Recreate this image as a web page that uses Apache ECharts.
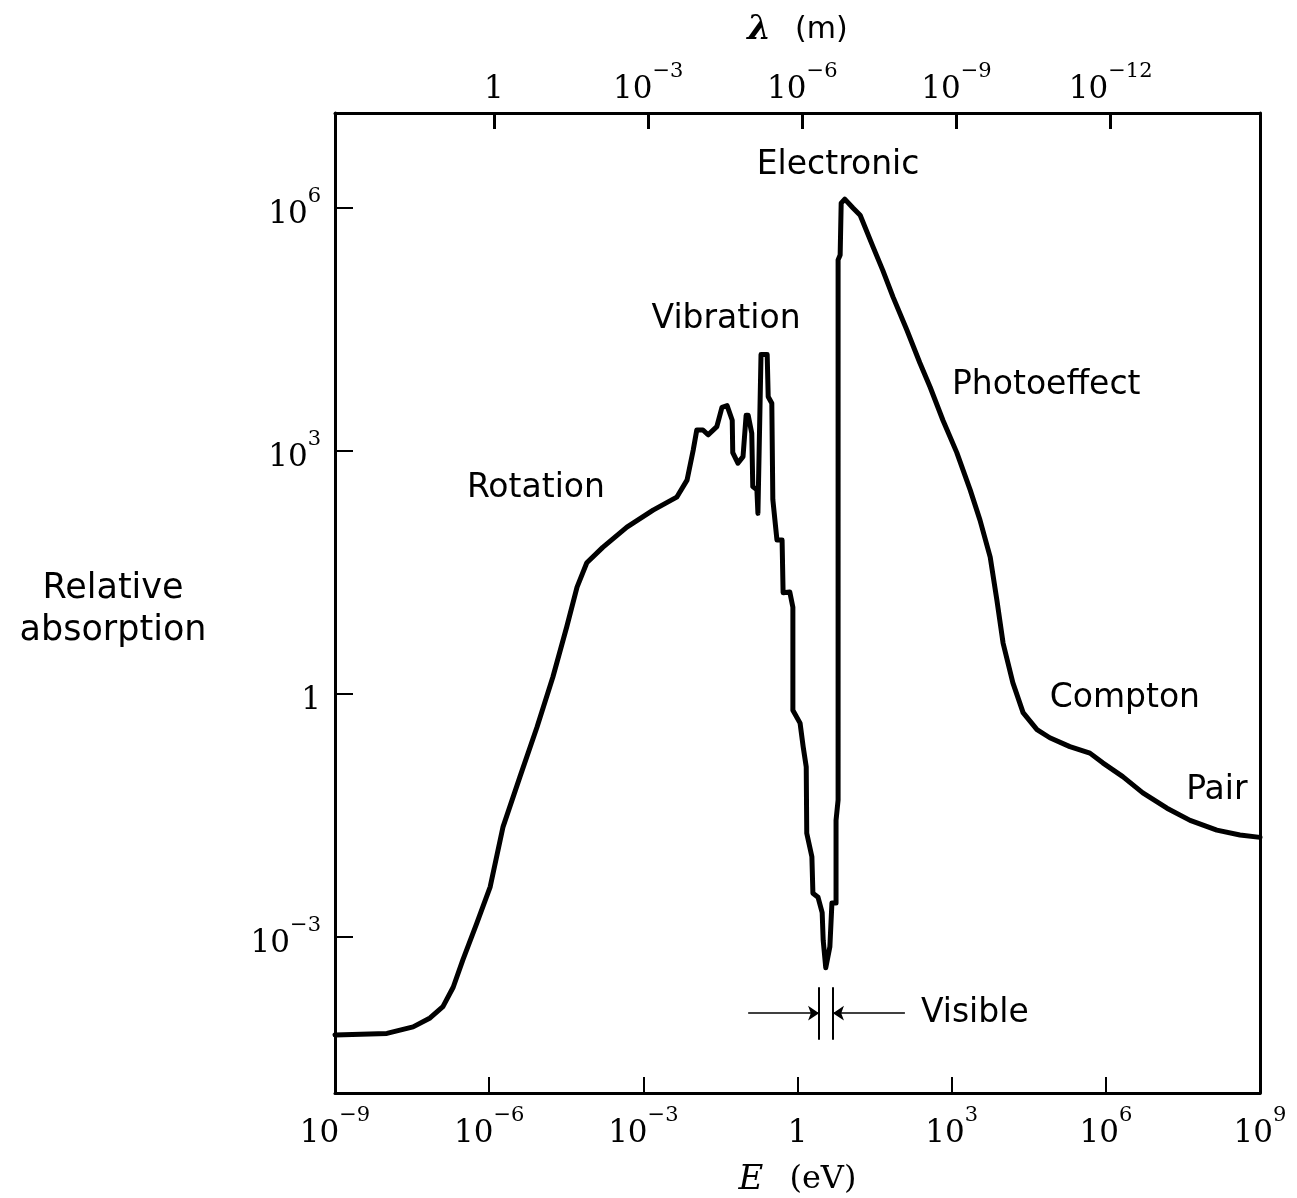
<!DOCTYPE html>
<html>
<head>
<meta charset="utf-8">
<script src="https://cdn.jsdelivr.net/npm/echarts@6/dist/echarts.min.js"></script>
<style>
  html, body { margin: 0; padding: 0; background: #fff; }
  #chart { width: 1297px; height: 1198px; }
</style>
</head>
<body>
<div id="chart"></div>
<script>
// curve: log10(E / eV) and log10(relative absorption)
const logEnergy = [
  -9.00, -7.99, -7.48, -7.15, -6.90, -6.70, -6.51, -6.24, -5.98, -5.73,
  -5.40, -5.07, -4.76, -4.49, -4.29, -4.10, -3.79, -3.32, -2.81, -2.35,
  -2.15, -2.03, -1.96, -1.84, -1.74, -1.57, -1.47, -1.37, -1.27, -1.26,
  -1.16, -1.06, -1.00, -0.96, -0.89, -0.87, -0.79, -0.77, -0.71, -0.59,
  -0.57, -0.50, -0.48, -0.40, -0.30, -0.28, -0.15, -0.09, -0.09, 0.05,
  0.11, 0.17, 0.18, 0.28, 0.30, 0.40, 0.48, 0.50, 0.55, 0.63,
  0.67, 0.75, 0.75, 0.79, 0.79, 0.83, 0.85, 0.92, 1.08, 1.22,
  1.47, 1.66, 1.86, 2.13, 2.38, 2.58, 2.83, 3.10, 3.36, 3.55,
  3.75, 3.88, 4.00, 4.19, 4.39, 4.66, 4.91, 5.30, 5.69, 5.94,
  6.33, 6.72, 7.19, 7.64, 8.16, 8.61, 9.00
];
const logAbsorption = [
  -4.21, -4.19, -4.11, -4.00, -3.86, -3.62, -3.28, -2.83, -2.38, -1.64,
  -1.02, -0.41, 0.21, 0.83, 1.32, 1.62, 1.81, 2.06, 2.27, 2.43,
  2.64, 3.01, 3.26, 3.26, 3.20, 3.30, 3.54, 3.56, 3.38, 2.98,
  2.85, 2.93, 3.44, 3.44, 3.22, 2.56, 2.52, 2.23, 4.19, 4.19,
  3.67, 3.59, 2.40, 1.90, 1.90, 1.25, 1.26, 1.07, -0.20, -0.36,
  -0.65, -0.90, -1.72, -2.01, -2.46, -2.51, -2.70, -3.04, -3.38, -3.12,
  -2.58, -2.58, -1.56, -1.31, 5.36, 5.42, 6.06, 6.11, 6.00, 5.91,
  5.52, 5.23, 4.90, 4.49, 4.09, 3.79, 3.38, 2.98, 2.52, 2.15,
  1.69, 1.16, 0.63, 0.14, -0.23, -0.44, -0.54, -0.65, -0.73, -0.85,
  -1.02, -1.22, -1.41, -1.56, -1.68, -1.74, -1.77
];

const energyTicks = [-9, -6, -3, 0, 3, 6, 9];
const absorptionTicks = [-3, 0, 3, 6];
const lambdaTicks = [0, -3, -6, -9, -12]; // log10(λ / m)

const regionNames = ['Electronic', 'Vibration', 'Photoeffect', 'Rotation', 'Compton', 'Pair', 'Visible'];
const regionLogE = [0.79, -1.39, 4.84, -5.09, 6.37, 8.16, 3.45];
const regionLogA = [6.52, 4.63, 3.81, 2.54, -0.06, -1.19, -3.94];

// visible band marker (log10 E of its two edges, and of the arrow tails)
const visibleEdges = [0.42, 0.69];
const visibleArrowTails = [-0.96, 2.09];
const visibleSpan = [-3.62, -4.27];
const visibleArrowY = -3.94;

const LOG_HC = Math.log10(1.2398e-6); // λ(m) = 1.2398e-6 / E(eV)
const Y_MIN = -4.926, Y_MAX = 7.173;

const serif = 'DejaVu Serif';
const sans = 'DejaVu Sans';

const powRich = {
  b: { fontFamily: serif, fontSize: 31, lineHeight: 44, verticalAlign: 'bottom', color: '#000' },
  s: { fontFamily: serif, fontSize: 21, lineHeight: 24, verticalAlign: 'top', color: '#000' }
};
function pow10(e) {
  if (e === 0) return '{b|1}';
  return '{b|10}{s|' + (e < 0 ? '\u2212' + (-e) : e) + '}';
}

const myChart = echarts.init(document.getElementById('chart'));

const curve = logEnergy.map((x, i) => [x, logAbsorption[i]]);
const labels = regionNames.map((n, i) => [regionLogE[i], regionLogA[i], n]);
const lambdaPos = lambdaTicks.map(k => LOG_HC - k);

const frame = { color: '#000', width: 3 };

myChart.setOption({
  animation: false,
  backgroundColor: '#fff',
  grid: { left: 335, top: 113, width: 925, height: 980, containLabel: false, outerBoundsMode: 'none' },
  xAxis: [
    {
      type: 'value', position: 'bottom', min: -9, max: 9,
      axisLine: { onZero: false, lineStyle: frame },
      axisTick: { inside: true, length: 16, lineStyle: { color: '#000', width: 2 }, customValues: [-6, -3, 0, 3, 6] },
      axisLabel: {
        customValues: energyTicks, showMinLabel: true, showMaxLabel: true, margin: 12,
        formatter: v => pow10(Math.round(v)), rich: powRich
      },
      splitLine: { show: false },
      name: '{i|E}{t|(eV)}', nameLocation: 'middle', nameGap: 70,
      nameTextStyle: {
        rich: {
          i: { fontFamily: serif, fontStyle: 'italic', fontSize: 34, color: '#000', padding: [0, 26, 0, 0] },
          t: { fontFamily: serif, fontSize: 32, color: '#000' }
        }
      }
    },
    {
      type: 'value', position: 'top', min: -9, max: 9,
      axisLine: { onZero: false, lineStyle: { color: '#000', width: 3 } },
      axisTick: { inside: true, length: 16, lineStyle: { color: '#000', width: 3 }, customValues: lambdaPos },
      axisLabel: {
        customValues: lambdaPos, margin: 8,
        formatter: v => pow10(Math.round(LOG_HC - v)), rich: powRich
      },
      splitLine: { show: false },
      name: '{i|\u03bb}{t|(m)}', nameLocation: 'middle', nameGap: 66,
      nameTextStyle: {
        rich: {
          i: { fontFamily: serif, fontStyle: 'italic', fontWeight: 'bold', fontSize: 34, color: '#000', padding: [0, 24, 0, 0] },
          t: { fontFamily: sans, fontSize: 30, color: '#000' }
        }
      }
    }
  ],
  yAxis: [
    {
      type: 'value', position: 'left', min: Y_MIN, max: Y_MAX,
      axisLine: { show: true, onZero: false, lineStyle: frame },
      axisTick: { show: true, inside: true, length: 18, lineStyle: { color: '#000', width: 2 }, customValues: absorptionTicks },
      axisLabel: {
        customValues: absorptionTicks, margin: 14,
        formatter: v => pow10(Math.round(v)), rich: powRich
      },
      splitLine: { show: false }
    },
    {
      type: 'value', position: 'right', min: Y_MIN, max: Y_MAX,
      axisLine: { show: true, onZero: false, lineStyle: frame },
      axisTick: { show: false },
      axisLabel: { show: false },
      splitLine: { show: false }
    }
  ],
  graphic: [
    {
      type: 'text', x: 113, y: 610,
      style: {
        text: 'Relative\nabsorption', fontFamily: sans, fontSize: 35, lineHeight: 42,
        textAlign: 'center', textVerticalAlign: 'middle', fill: '#000'
      }
    }
  ],
  series: [
    {
      type: 'line', data: curve, showSymbol: false, silent: true,
      lineStyle: { color: '#000', width: 5, join: 'round', cap: 'round' }
    },
    {
      type: 'scatter', data: labels, symbolSize: 0, silent: true,
      itemStyle: { opacity: 1, color: '#000' },
      label: {
        show: true, position: 'inside', formatter: p => p.data[2],
        fontFamily: sans, fontSize: 33, color: '#000', opacity: 1
      }
    },
    {
      type: 'lines', coordinateSystem: 'cartesian2d', silent: true,
      symbol: 'none',
      lineStyle: { color: '#000', width: 2, opacity: 1 },
      data: visibleEdges.map(x => ({ coords: [[x, visibleSpan[0]], [x, visibleSpan[1]]] }))
    },
    {
      type: 'lines', coordinateSystem: 'cartesian2d', silent: true,
      symbol: ['none', 'arrow'], symbolSize: 11,
      lineStyle: { color: '#000', width: 1.5, opacity: 1 },
      data: visibleArrowTails.map((x, i) => ({ coords: [[x, visibleArrowY], [visibleEdges[i], visibleArrowY]] }))
    }
  ]
});
</script>
</body>
</html>
